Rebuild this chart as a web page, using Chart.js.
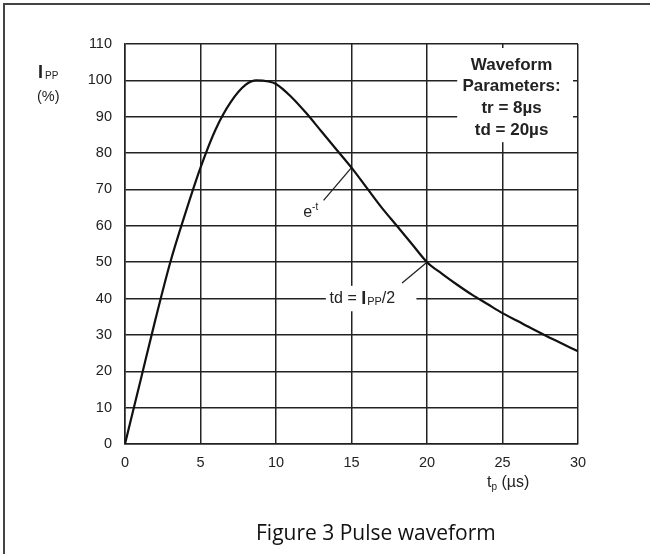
<!DOCTYPE html>
<html>
<head>
<meta charset="utf-8">
<script src="https://cdn.jsdelivr.net/npm/chart.js@4/dist/chart.umd.min.js"></script>
<style>
  html, body { margin: 0; padding: 0; background: #fff; }
  #wrap { position: relative; width: 650px; height: 554px; overflow: hidden; }
  #frame { position: absolute; left: 3px; top: 3px; width: 700px; height: 600px;
           border-left: 2px solid #444; border-top: 2px solid #444; }
  #chart { position: absolute; left: 0; top: 0; }
  #caption { position: absolute; left: 256px; top: 518px; font: 21px "Open Sans", "Noto Sans", sans-serif; color: #111; }
</style>
</head>
<body>
<div id="wrap">
  <div id="frame"></div>
  <canvas id="chart" width="650" height="554"></canvas>
  <div id="caption">Figure 3 Pulse waveform</div>
</div>
<script>
// pulse time (µs) and peak current (% of Ipp)
const times   = [0, 1, 2, 3, 4, 5, 6, 7, 8, 8.7, 9.5, 10, 11, 12, 13, 14, 15, 16, 17, 18, 19, 20, 21, 22, 23, 24, 25, 26, 27, 28, 29, 30];
const current = [0, 17, 34, 50, 63.5, 76, 86.5, 94, 98.8, 100, 99.7, 99, 95.5, 91, 86, 81, 76, 70.5, 65, 60, 55, 50, 46.8, 43.8, 41, 38.5, 36, 33.8, 31.6, 29.5, 27.5, 25.5];

const xTicks = [0, 5, 10, 15, 20, 25, 30];
const yTicks = [0, 10, 20, 30, 40, 50, 60, 70, 80, 90, 100, 110];

const paramLines = ['Waveform', 'Parameters:', 'tr = 8µs', 'td = 20µs'];

const ink = '#222';
const tickFont = { family: 'Liberation Sans, Arial, sans-serif', size: 14.5 };

// draws pieces of text in a row, each with its own font and baseline shift
function drawRuns(ctx, x, y, runs) {
  let cx = x;
  runs.forEach(function(r) {
    ctx.font = r.font;
    ctx.fillText(r.text, cx, y + (r.dy || 0));
    cx += ctx.measureText(r.text).width + (r.gap || 0);
  });
  return cx;
}

const labelsPlugin = {
  id: 'labels',
  beforeDatasetsDraw(chart) {
    const ctx = chart.ctx;
    const xs = chart.scales.x, ys = chart.scales.y;
    const area = chart.chartArea;
    ctx.save();

    // white panel for the parameter block in the top right corner
    ctx.fillStyle = '#fff';
    ctx.fillRect(xs.getPixelForValue(22), area.top + 4, area.right - 5 - xs.getPixelForValue(22), ys.getPixelForValue(83) - area.top - 4);
    // white patch behind the td label
    ctx.fillRect(xs.getPixelForValue(13.3), ys.getPixelForValue(43.5), xs.getPixelForValue(19.3) - xs.getPixelForValue(13.3), ys.getPixelForValue(36.5) - ys.getPixelForValue(43.5));

    ctx.fillStyle = ink;
    ctx.strokeStyle = ink;
    ctx.textBaseline = 'middle';

    // parameter block
    ctx.textAlign = 'center';
    ctx.font = 'bold 17px "Liberation Sans", Arial, sans-serif';
    const cx = xs.getPixelForValue(25.6);
    paramLines.forEach(function(t, i) {
      ctx.fillText(t, cx, area.top + 21 + i * 21.7);
    });

    // leader lines
    ctx.lineWidth = 1.3;
    ctx.beginPath();
    ctx.moveTo(xs.getPixelForValue(13.15), ys.getPixelForValue(67));
    ctx.lineTo(xs.getPixelForValue(15), ys.getPixelForValue(76));
    ctx.moveTo(xs.getPixelForValue(18.35), ys.getPixelForValue(44.3));
    ctx.lineTo(xs.getPixelForValue(20), ys.getPixelForValue(50));
    ctx.stroke();

    ctx.textAlign = 'left';
    // e^-t
    drawRuns(ctx, xs.getPixelForValue(11.8), ys.getPixelForValue(63.5), [
      { text: 'e', font: '16px "Liberation Sans", Arial, sans-serif' },
      { text: '-t', font: '10px "Liberation Sans", Arial, sans-serif', dy: -6 }
    ]);
    // td = Ipp/2
    drawRuns(ctx, xs.getPixelForValue(13.55), ys.getPixelForValue(40), [
      { text: 'td = ', font: '16px "Liberation Sans", Arial, sans-serif' },
      { text: 'I', font: 'bold 18px "Liberation Sans", Arial, sans-serif', gap: 1 },
      { text: 'PP', font: '11px "Liberation Sans", Arial, sans-serif', dy: 3 },
      { text: '/2', font: '16px "Liberation Sans", Arial, sans-serif' }
    ]);

    // y axis title
    drawRuns(ctx, 38, 73, [
      { text: 'I', font: 'bold 18px "Liberation Sans", Arial, sans-serif', gap: 2 },
      { text: 'PP', font: '10px "Liberation Sans", Arial, sans-serif', dy: 3 }
    ]);
    ctx.font = '14.5px "Liberation Sans", Arial, sans-serif';
    ctx.fillText('(%)', 37, 97);

    // x axis title
    drawRuns(ctx, 487, 483, [
      { text: 't', font: '16px "Liberation Sans", Arial, sans-serif' },
      { text: 'p', font: '10px "Liberation Sans", Arial, sans-serif', dy: 4 },
      { text: ' (µs)', font: '16px "Liberation Sans", Arial, sans-serif' }
    ]);
    ctx.restore();
  }
};

new Chart(document.getElementById('chart'), {
  type: 'line',
  data: {
    datasets: [{
      data: times.map(function(t, i) { return { x: t, y: current[i] }; }),
      borderColor: '#111',
      borderWidth: 2.2,
      pointRadius: 0,
      cubicInterpolationMode: 'monotone',
      fill: false
    }]
  },
  options: {
    responsive: false,
    animation: false,
    events: [],
    layout: { padding: { top: 44, right: 72, left: 0, bottom: 0 } },
    plugins: { legend: { display: false }, tooltip: { enabled: false } },
    scales: {
      x: {
        type: 'linear',
        min: 0, max: 30,
        afterBuildTicks: function(scale) { scale.ticks = xTicks.map(function(v) { return { value: v }; }); },
        afterFit: function(scale) { scale.height = 110; },
        ticks: { color: ink, font: tickFont, padding: 10, maxRotation: 0 },
        grid: { color: ink, lineWidth: 1.5, drawTicks: false },
        border: { color: ink, width: 1.5 }
      },
      y: {
        min: 0, max: 110,
        afterBuildTicks: function(scale) { scale.ticks = yTicks.map(function(v) { return { value: v }; }); },
        afterFit: function(scale) { scale.width = 125; },
        ticks: { color: ink, font: tickFont, padding: 13 },
        grid: { color: ink, lineWidth: 1.5, drawTicks: false },
        border: { color: ink, width: 1.5 }
      }
    }
  },
  plugins: [labelsPlugin]
});
</script>
</body>
</html>
